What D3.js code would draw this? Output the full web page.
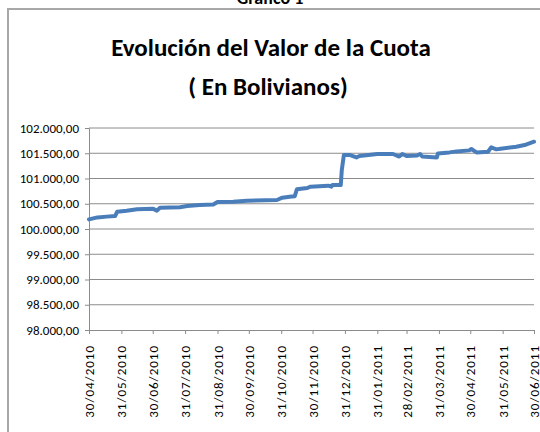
<!DOCTYPE html>
<html>
<head>
<meta charset="utf-8">
<script src="https://cdn.jsdelivr.net/npm/d3@7"></script>
<style>
  body { margin: 0; background: #fff; }
  svg { display: block; }
</style>
</head>
<body>
<div id="chart"></div>
<script>
const width = 540,
  height = 432;

// valor cuota (Bs)
const fechas = ['30/04/2010', '08/05/2010', '17/05/2010', '25/05/2010', '27/05/2010', '05/06/2010',
  '15/06/2010', '30/06/2010', '04/07/2010', '07/07/2010', '26/07/2010', '02/08/2010', '14/08/2010',
  '27/08/2010', '31/08/2010', '15/09/2010', '28/09/2010', '27/10/2010', '01/11/2010', '08/11/2010',
  '13/11/2010', '15/11/2010', '25/11/2010', '28/11/2010', '15/12/2010', '18/12/2010', '19/12/2010',
  '27/12/2010', '28/12/2010', '30/12/2010', '05/01/2011', '11/01/2011', '14/01/2011', '31/01/2011',
  '15/02/2011', '21/02/2011', '24/02/2011', '28/02/2011', '10/03/2011', '13/03/2011', '15/03/2011',
  '29/03/2011', '30/03/2011', '10/04/2011', '17/04/2011', '29/04/2011', '01/05/2011', '06/05/2011',
  '17/05/2011', '20/05/2011', '25/05/2011', '29/05/2011', '13/06/2011', '21/06/2011', '30/06/2011'];
const valores = [100190, 100230, 100245, 100257, 100343, 100363,
  100390, 100403, 100363, 100422, 100430, 100455, 100475,
  100485, 100535, 100540, 100560, 100575, 100620, 100640,
  100650, 100786, 100812, 100838, 100858, 100838, 100871,
  100871, 101168, 101465, 101465, 101418, 101445, 101485,
  101485, 101435, 101485, 101445, 101455, 101485, 101435,
  101418, 101497, 101517, 101537, 101557, 101584, 101517,
  101530, 101617, 101577, 101590, 101630, 101663, 101729];

const ticksX = ['30/04/2010', '31/05/2010', '30/06/2010', '31/07/2010', '31/08/2010', '30/09/2010',
  '31/10/2010', '30/11/2010', '31/12/2010', '31/01/2011', '28/02/2011', '31/03/2011',
  '30/04/2011', '31/05/2011', '30/06/2011'];
const ticksY = [98000, 98500, 99000, 99500, 100000, 100500, 101000, 101500, 102000];

const parse = d3.timeParse('%d/%m/%Y');
const fmtNum = d3.formatLocale({ decimal: ',', thousands: '.', grouping: [3], currency: ['', ''] }).format(',.2f');

const data = fechas.map((f, i) => ({ date: parse(f), value: valores[i] }));

const font = "Carlito, 'Liberation Sans Narrow', 'DejaVu Sans Condensed', 'Open Sans', sans-serif";

const svg = d3.select('#chart').append('svg')
  .attr('width', width)
  .attr('height', height)
  .style('font-family', font);

// frame
svg.append('rect')
  .attr('x', 8)
  .attr('y', 9)
  .attr('width', 560)
  .attr('height', 450)
  .attr('fill', 'none')
  .attr('stroke', '#a8a8a8')
  .attr('stroke-width', 2);

svg.append('text')
  .attr('x', 270)
  .attr('y', 4)
  .attr('text-anchor', 'middle')
  .style('font-size', '18px')
  .style('font-weight', 'bold')
  .text('Gráfico 1');

svg.append('text')
  .attr('x', 271)
  .attr('y', 56)
  .attr('text-anchor', 'middle')
  .style('font-size', '25px')
  .style('font-weight', 'bold')
  .text('Evolución del Valor de la Cuota');

svg.append('text')
  .attr('x', 268)
  .attr('y', 95)
  .attr('text-anchor', 'middle')
  .style('font-size', '25px')
  .style('font-weight', 'bold')
  .text('( En Bolivianos)');

const margin = { left: 89, right: 534, top: 128, bottom: 330 };

const x = d3.scaleTime()
  .domain([parse(ticksX[0]), parse(ticksX[ticksX.length - 1])])
  .range([margin.left, margin.right]);

const y = d3.scaleLinear()
  .domain([98000, 102000])
  .range([margin.bottom, margin.top]);

// gridlines
svg.append('g')
  .selectAll('line')
  .data(ticksY.slice(1))
  .enter()
  .append('line')
  .attr('x1', margin.left)
  .attr('x2', margin.right)
  .attr('y1', d => y(d))
  .attr('y2', d => y(d))
  .attr('stroke', '#8c8c8c')
  .attr('stroke-width', 1);

// y axis
const yAxis = svg.append('g')
  .attr('transform', `translate(${margin.left},0)`)
  .call(d3.axisLeft(y).tickValues(ticksY).tickFormat(fmtNum).tickSize(4).tickPadding(6));

// x axis
const xAxis = svg.append('g')
  .attr('transform', `translate(0,${margin.bottom})`)
  .call(d3.axisBottom(x).tickValues(ticksX.map(parse)).tickFormat(d3.timeFormat('%d/%m/%Y')).tickSize(4));

[xAxis, yAxis].forEach((ax) => {
  ax.selectAll('path, line').attr('stroke', '#8c8c8c');
  ax.selectAll('text').attr('fill', '#000').style('font-family', font);
});

yAxis.selectAll('text').style('font-size', '13px');

xAxis.selectAll('text')
  .attr('transform', 'rotate(-90)')
  .attr('text-anchor', 'end')
  .attr('x', -15)
  .attr('y', 0)
  .attr('dy', '0.35em')
  .style('font-size', '13px')
  .style('letter-spacing', '1px');

// series
const line = d3.line()
  .x(d => x(d.date))
  .y(d => y(d.value));

svg.append('path')
  .datum(data)
  .attr('d', line)
  .attr('fill', 'none')
  .attr('stroke', '#4a7ebb')
  .attr('stroke-width', 4)
  .attr('stroke-linejoin', 'round')
  .attr('stroke-linecap', 'round');
</script>
</body>
</html>
